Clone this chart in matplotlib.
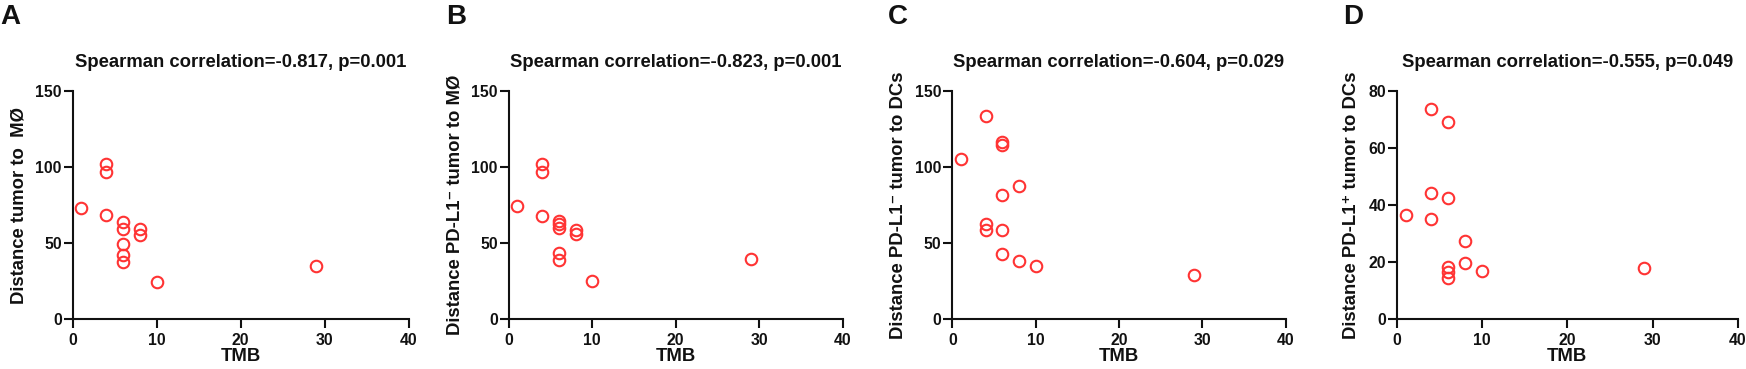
import matplotlib
matplotlib.use("Agg")
import matplotlib.pyplot as plt

plt.rcParams['font.family'] = ['Liberation Sans', 'DejaVu Sans']
plt.rcParams['font.weight'] = 'bold'

tmb_a = [1, 4, 4, 4, 6, 6, 6, 6, 6, 8, 8, 10, 29]
dist_a = [72.8, 102, 97, 68.4, 64, 59, 49.6, 41.9, 37.7, 59, 55.5, 24.6, 34.9]

tmb_b = [1, 4, 4, 4, 6, 6, 6, 6, 6, 8, 8, 10, 29]
dist_b = [74.6, 102, 97, 67.5, 64.7, 62.5, 59.6, 43.6, 38.6, 58.8, 55.9, 25.2, 39.3]

tmb_c = [1, 4, 4, 4, 6, 6, 6, 6, 6, 8, 8, 10, 29]
dist_c = [105.3, 133.8, 62.7, 58.6, 116.2, 114.7, 81.4, 58.3, 42.8, 87.5, 38.2, 34.6, 28.9]

tmb_d = [1, 4, 4, 4, 6, 6, 6, 6, 6, 8, 8, 10, 29]
dist_d = [36.4, 73.7, 44.2, 35.2, 69, 42.3, 18.1, 16.6, 14.4, 27.5, 19.5, 17, 17.9]

letters = ['A', 'B', 'C', 'D']
titles = ['Spearman correlation=-0.817, p=0.001',
          'Spearman correlation=-0.823, p=0.001',
          'Spearman correlation=-0.604, p=0.029',
          'Spearman correlation=-0.555, p=0.049']
ylabels = ['Distance tumor to  MØ',
           'Distance PD-L1\u207b tumor to MØ',
           'Distance PD-L1\u207b tumor to DCs',
           'Distance PD-L1\u207a tumor to DCs']
xlabel = 'TMB'
xticks = [0, 10, 20, 30, 40]
yticks_list = [[0, 50, 100, 150], [0, 50, 100, 150], [0, 50, 100, 150], [0, 20, 40, 60, 80]]

W, H = 1746, 369
fig = plt.figure(figsize=(W / 100, H / 100), dpi=100)

boxes = [(72.7, 408.7), (508.7, 842.7), (952.3, 1285.7), (1397, 1737.7)]
top_px, bot_px = 91, 319
letter_x = [0, 446, 888, 1343]

data = [(tmb_a, dist_a), (tmb_b, dist_b), (tmb_c, dist_c), (tmb_d, dist_d)]
red = '#FF3333'
ink = '#111111'

for i, ((l, r), (xs, ys)) in enumerate(zip(boxes, data)):
    ax = fig.add_axes([l / W, 1 - bot_px / H, (r - l) / W, (bot_px - top_px) / H])
    ax.plot(xs, ys, linestyle='none', marker='o', markersize=8.3,
            markerfacecolor='none', markeredgecolor=red, markeredgewidth=1.5,
            clip_on=False)
    yt = yticks_list[i]
    ax.set_xlim(0, 40)
    ax.set_ylim(0, yt[-1])
    ax.set_xticks(xticks)
    ax.set_yticks(yt)
    ax.spines['top'].set_visible(False)
    ax.spines['right'].set_visible(False)
    for s in ['left', 'bottom']:
        ax.spines[s].set_linewidth(1.5)
        ax.spines[s].set_color(ink)
    ax.tick_params(axis='both', direction='out', length=6.3, width=1.5,
                   labelsize=11.4, colors=ink)
    ax.tick_params(axis='x', pad=4)
    ax.tick_params(axis='y', pad=1.5)
    for lab in ax.get_xticklabels() + ax.get_yticklabels():
        lab.set_fontweight('bold')
    ax.set_xlabel(xlabel, fontsize=13.3, fontweight='bold', labelpad=0, color=ink)
    ax.set_ylabel(ylabels[i], fontsize=13.3, fontweight='bold', labelpad=6, color=ink)
    ax.set_title(titles[i], fontsize=13.3, fontweight='bold', pad=17, color=ink)
    fig.text(letter_x[i] / W, 1 - 24.5 / H, letters[i], fontsize=20,
             fontweight='bold', va='baseline', ha='left', color=ink)

fig.savefig('out.png', dpi=100)
